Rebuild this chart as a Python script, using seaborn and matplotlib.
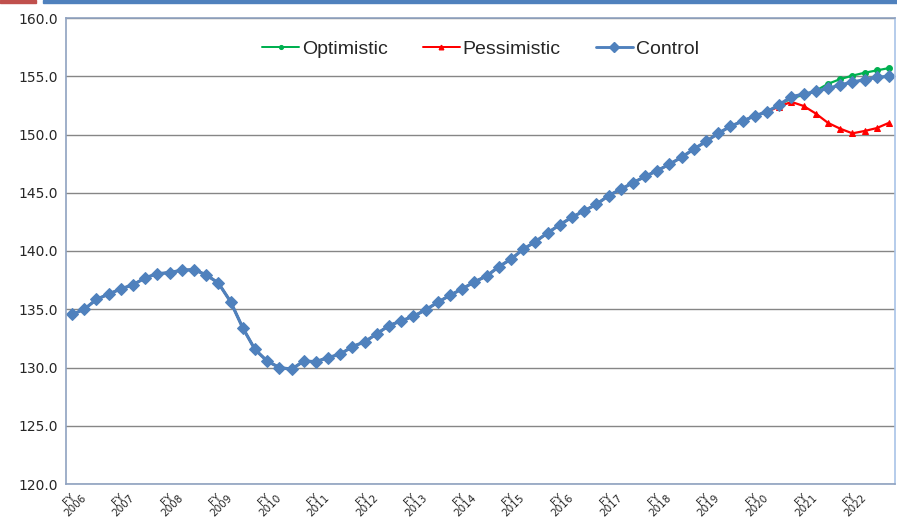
import matplotlib
matplotlib.use("Agg")
import matplotlib.pyplot as plt
import matplotlib.transforms as mtransforms
from matplotlib.lines import Line2D
from matplotlib.patches import Rectangle
import seaborn as sns
import pandas as pd

# quarterly values, FY2006 Q1 .. FY2022 Q4
control = [
    134.55, 135.0, 135.85, 136.3, 136.75, 137.1, 137.7, 138.05, 138.15, 138.35,
    138.4, 137.95, 137.25, 135.65, 133.4, 131.55, 130.55, 130.0, 129.85, 130.55,
    130.5, 130.85, 131.15, 131.8, 132.2, 132.9, 133.6, 134.0, 134.4, 134.95,
    135.6, 136.2, 136.75, 137.35, 137.85, 138.65, 139.3, 140.15, 140.8, 141.55,
    142.25, 142.9, 143.45, 144.0, 144.75, 145.3, 145.85, 146.4, 146.9, 147.45,
    148.05, 148.75, 149.4, 150.1, 150.7, 151.15, 151.6, 151.95, 152.55, 153.25,
    153.45, 153.7, 153.95, 154.25, 154.5, 154.7, 154.9, 155.0,
]
pessimistic_tail = [152.4, 152.8, 152.45, 151.8, 151.0, 150.5, 150.1, 150.3, 150.55, 151.0]
optimistic_tail = [153.1, 153.4, 153.75, 154.35, 154.75, 155.05, 155.3, 155.5, 155.7]

pessimistic = control[:58] + pessimistic_tail
optimistic = control[:59] + optimistic_tail

years = list(range(2006, 2023))
tick_labels = [f"FY\n{y}" for y in years]

series = {"Optimistic": optimistic, "Pessimistic": pessimistic, "Control": control}
df = pd.concat(
    [pd.DataFrame({"q": range(len(v)), "value": v, "scenario": k}) for k, v in series.items()]
)

colors = {"Optimistic": "#00B050", "Pessimistic": "#FF0000", "Control": "#4F81BD"}
markers = {"Optimistic": "o", "Pessimistic": "^", "Control": "D"}
msize = {"Optimistic": 4.2, "Pessimistic": 4.8, "Control": 6.2}
lw = {"Optimistic": 1.6, "Pessimistic": 1.6, "Control": 2.3}

sns.set_style("white")
fig = plt.figure(figsize=(8.97, 5.22), dpi=100)
ax = fig.add_axes([66 / 897, 38 / 522, 829 / 897, 466 / 522])

for name in series:
    sub = df[df["scenario"] == name]
    sns.lineplot(
        data=sub, x="q", y="value", ax=ax, color=colors[name], marker=markers[name],
        markersize=msize[name], markeredgecolor=colors[name], linewidth=lw[name],
        legend=False,
    )

ax.set_xlim(-0.5, len(control) - 0.5)
ax.set_ylim(120, 160)
ax.set_yticks(range(120, 161, 5))
ax.set_yticklabels([f"{v:.1f}" for v in range(120, 161, 5)], fontsize=10, family="DejaVu Sans")
ax.set_xticks(range(0, len(control), 4))
ax.set_xticklabels(tick_labels, rotation=45, ha="center", va="top", fontsize=7.5,
                   linespacing=0.75, family="DejaVu Sans")
offset = mtransforms.ScaledTranslation(12 / 100, 0, fig.dpi_scale_trans)
for lab in ax.get_xticklabels():
    lab.set_transform(lab.get_transform() + offset)
ax.set_xlabel("")
ax.set_ylabel("")
ax.tick_params(axis="y", length=0, pad=6)
ax.tick_params(axis="x", length=0, pad=2)
ax.yaxis.grid(True, color="#868686", linewidth=1)
ax.set_axisbelow(True)
for s in ax.spines.values():
    s.set_color("#8FA2C0")
    s.set_linewidth(1.2)
ax.spines["right"].set_color("#A9C4E8")

handles = [
    Line2D([], [], color=colors[n], marker=markers[n], markersize=msize[n] - 1.5,
           linewidth=lw[n] * 0.9) for n in series
]
ax.legend(handles, list(series), loc="upper center", bbox_to_anchor=(0.5, 0.99), ncol=3,
          frameon=False, handlelength=1.9, handletextpad=0.15,
          columnspacing=1.8, prop={"family": "Liberation Sans", "size": 14})

fig.patches.append(Rectangle((0, 1 - 3 / 522), 36 / 897, 3 / 522, transform=fig.transFigure,
                             color="#C0504D"))
fig.patches.append(Rectangle((43 / 897, 1 - 3 / 522), 1, 3 / 522, transform=fig.transFigure,
                             color="#4F81BD"))

fig.savefig("out.png", dpi=100)
